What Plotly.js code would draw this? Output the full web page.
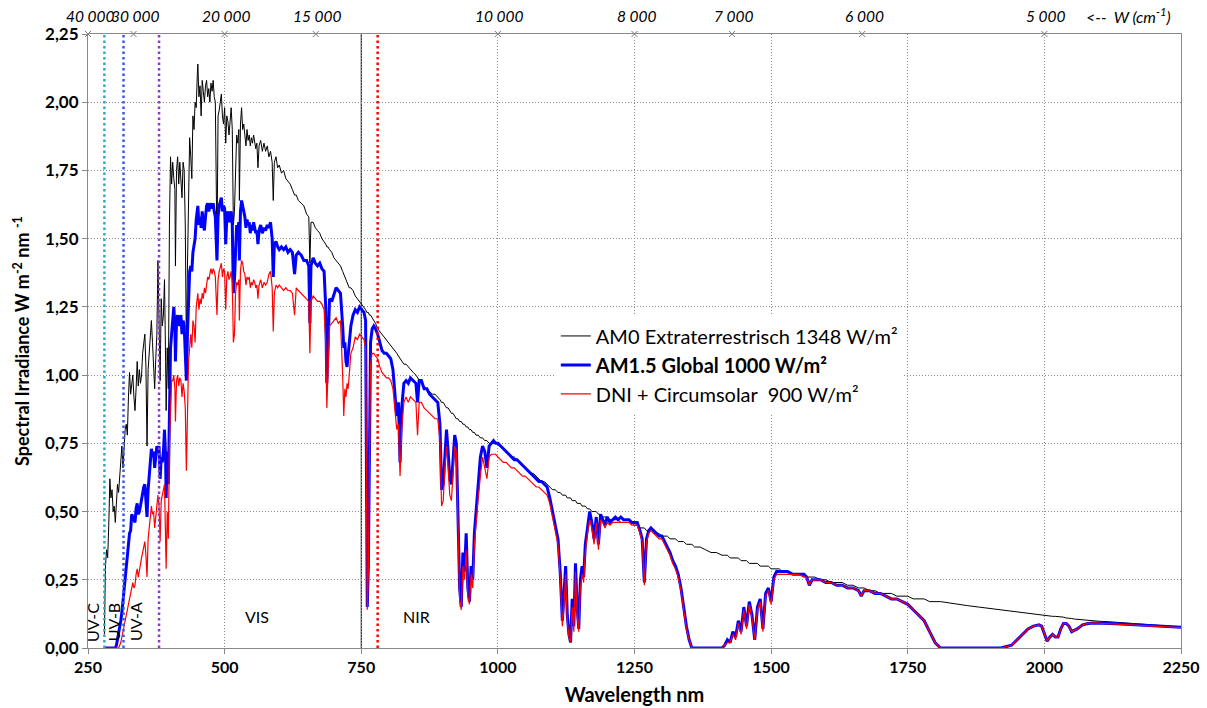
<!DOCTYPE html>
<html>
<head>
<meta charset="utf-8">
<script src="https://cdn.plot.ly/plotly-3.0.1.min.js"></script>
<style>html,body{margin:0;padding:0;background:#fff;}#chart{width:1207px;height:708px;}</style>
</head>
<body>
<div id="chart"></div>
<script>
// ---- data ----
const wavelength = [
 280,282,284,286,288,290,292,294,296,298,
 300,302,304,306,308,310,312,314,316,318,
 320,322,324,326,328,330,332,334,336,338,
 340,342,344,346,348,350,352,354,356,358,
 360,362,364,366,368,370,372,374,376,378,
 380,382,384,386,388,390,392,393,395,397,
 399,401,403,405,407,409,410,412,414,416,
 418,420,422,424,426,428,430,432,434,436,
 438,440,442,444,446,448,450,451,453,455,
 457,459,461,463,465,467,469,471,473,475,
 477,479,481,483,486,488,490,492,494,496,
 498,500,502,504,506,508,510,512,514,516,
 518,520,522,524,526,527,529,531,533,535,
 537,539,541,543,545,547,549,551,553,555,
 557,559,561,563,566,569,572,575,578,581,
 584,587,589,591,594,597,600,604,608,612,
 616,620,624,628,631,635,640,645,650,654,
 656,658,662,666,670,674,678,682,685,687,
 689,692,696,700,704,708,712,716,718,720,
 722,724,726,728,731,735,739,743,747,751,
 755,758,760,761,763,765,767,770,773,776,
 780,784,788,792,796,800,804,808,812,815,
 818,821,824,828,832,836,840,845,850,853,
 856,860,865,870,875,880,885,890,894,897,
 900,903,906,909,912,915,918,921,924,927,
 930,933,936,939,942,945,948,951,954,957,
 960,964,968,972,976,980,984,988,992,996,
 1000,1005,1010,1015,1020,1025,1030,1035,1040,1045,
 1050,1055,1060,1065,1070,1075,1080,1085,1090,1095,
 1100,1105,1110,1114,1118,1121,1124,1127,1130,1133,
 1136,1139,1142,1145,1148,1151,1154,1157,1160,1164,
 1168,1172,1176,1180,1184,1188,1192,1196,1200,1205,
 1210,1215,1220,1225,1230,1235,1240,1245,1250,1255,
 1260,1264,1268,1272,1276,1280,1285,1290,1295,1300,
 1305,1310,1315,1320,1325,1330,1335,1340,1345,1350,
 1355,1360,1370,1380,1390,1400,1410,1415,1420,1425,
 1430,1435,1440,1445,1450,1455,1460,1465,1470,1475,
 1480,1485,1490,1495,1500,1505,1510,1515,1520,1530,
 1540,1550,1560,1565,1570,1575,1580,1590,1600,1610,
 1620,1630,1640,1650,1660,1665,1670,1680,1690,1700,
 1710,1720,1730,1740,1750,1760,1770,1780,1790,1800,
 1810,1820,1840,1860,1880,1900,1920,1940,1950,1960,
 1970,1980,1990,1995,2000,2005,2010,2015,2020,2025,
 2030,2035,2040,2045,2050,2055,2060,2070,2080,2090,
 2100,2120,2140,2160,2180,2200,2220,2250
];

const am0 = [
 0.05,0.30,0.36,0.33,0.45,0.62,0.55,0.58,0.50,0.52,
 0.46,0.55,0.60,0.57,0.62,0.68,0.74,0.66,0.76,0.80,
 0.82,0.78,0.92,1.01,0.93,0.98,1.00,0.92,0.87,0.95,
 1.05,0.96,1.02,0.97,1.00,1.08,1.12,1.15,1.03,0.74,
 1.02,1.08,1.15,1.20,1.12,1.05,0.95,1.06,1.15,1.42,
 1.10,0.98,1.28,1.18,1.22,1.35,1.05,0.87,1.10,0.95,
 1.55,1.80,1.70,1.78,1.72,1.68,1.40,1.75,1.80,1.70,
 1.78,1.72,1.65,1.78,1.75,1.55,1.10,1.40,1.75,1.87,
 1.80,1.72,1.95,1.90,2.00,1.98,2.10,2.14,2.02,2.06,
 1.95,2.08,2.04,2.00,2.06,2.08,2.02,2.05,2.00,2.07,
 2.04,2.08,2.02,2.00,1.46,1.95,1.97,2.00,2.03,1.95,
 1.92,1.98,1.85,1.95,1.93,1.88,1.92,1.98,1.90,1.55,
 1.60,1.80,1.88,1.85,1.90,1.64,1.92,1.98,1.90,1.92,
 1.88,1.84,1.90,1.86,1.88,1.84,1.87,1.85,1.88,1.86,
 1.83,1.85,1.76,1.84,1.86,1.82,1.85,1.82,1.84,1.80,
 1.82,1.78,1.64,1.78,1.80,1.76,1.77,1.74,1.75,1.72,
 1.71,1.70,1.68,1.66,1.66,1.64,1.63,1.62,1.59,1.58,
 1.41,1.56,1.56,1.54,1.53,1.52,1.50,1.49,1.48,1.47,
 1.47,1.46,1.45,1.43,1.42,1.41,1.40,1.38,1.37,1.36,
 1.35,1.34,1.33,1.32,1.32,1.31,1.29,1.28,1.27,1.26,
 1.25,1.24,1.23,1.23,1.23,1.22,1.22,1.21,1.20,1.19,
 1.17,1.16,1.15,1.14,1.13,1.12,1.11,1.10,1.09,1.08,
 1.07,1.06,1.05,1.04,1.04,1.03,1.02,1.01,1.00,0.99,
 0.98,0.97,0.96,0.95,0.94,0.93,0.93,0.92,0.91,0.90,
 0.90,0.89,0.88,0.88,0.87,0.86,0.86,0.85,0.84,0.84,
 0.83,0.83,0.82,0.82,0.81,0.81,0.80,0.80,0.79,0.79,
 0.78,0.78,0.77,0.77,0.76,0.76,0.75,0.75,0.75,0.75,
 0.75,0.74,0.73,0.72,0.71,0.70,0.70,0.69,0.68,0.67,
 0.66,0.65,0.64,0.64,0.63,0.62,0.61,0.61,0.60,0.59,
 0.58,0.58,0.57,0.57,0.56,0.56,0.56,0.55,0.55,0.55,
 0.54,0.54,0.54,0.53,0.53,0.53,0.52,0.52,0.52,0.51,
 0.51,0.50,0.50,0.50,0.49,0.49,0.48,0.48,0.48,0.47,
 0.47,0.47,0.47,0.46,0.46,0.46,0.46,0.46,0.45,0.45,
 0.44,0.44,0.44,0.43,0.43,0.43,0.42,0.42,0.42,0.41,
 0.41,0.41,0.40,0.40,0.40,0.39,0.39,0.39,0.38,0.38,
 0.38,0.37,0.37,0.36,0.35,0.35,0.34,0.34,0.34,0.33,
 0.33,0.33,0.33,0.32,0.32,0.32,0.31,0.31,0.31,0.31,
 0.30,0.30,0.30,0.30,0.29,0.29,0.29,0.29,0.28,0.28,
 0.27,0.27,0.27,0.26,0.26,0.26,0.26,0.25,0.25,0.24,
 0.24,0.24,0.23,0.23,0.22,0.22,0.22,0.21,0.21,0.20,
 0.20,0.20,0.19,0.19,0.19,0.18,0.18,0.18,0.17,0.17,
 0.17,0.167,0.16,0.155,0.15,0.145,0.14,0.135,0.13,0.128,
 0.125,0.123,0.12,0.12,0.118,0.118,0.117,0.116,0.116,0.115,
 0.115,0.113,0.11,0.11,0.108,0.106,0.105,0.103,0.101,0.10,
 0.098,0.096,0.093,0.09,0.087,0.084,0.081,0.077
];

const global15 = [
 0,0,0,0,0,0,0,0,0,0,
 0.00,0.01,0.03,0.05,0.07,0.10,0.13,0.17,0.20,0.25,
 0.30,0.33,0.38,0.42,0.43,0.49,0.48,0.47,0.46,0.51,
 0.53,0.49,0.50,0.52,0.55,0.58,0.59,0.60,0.55,0.48,
 0.58,0.63,0.68,0.73,0.70,0.72,0.66,0.70,0.74,0.72,
 0.74,0.62,0.70,0.68,0.72,0.80,0.70,0.55,0.72,0.60,
 0.95,1.10,1.15,1.22,1.25,1.18,1.05,1.20,1.22,1.18,
 1.20,1.22,1.15,1.20,1.18,1.10,0.98,1.15,1.30,1.38,
 1.40,1.38,1.45,1.48,1.50,1.57,1.60,1.62,1.55,1.58,
 1.54,1.60,1.55,1.53,1.58,1.62,1.63,1.60,1.62,1.63,
 1.61,1.63,1.60,1.58,1.42,1.58,1.62,1.64,1.65,1.60,
 1.62,1.61,1.48,1.58,1.60,1.56,1.58,1.60,1.55,1.30,
 1.35,1.50,1.55,1.53,1.56,1.42,1.60,1.64,1.62,1.60,
 1.58,1.54,1.57,1.55,1.56,1.52,1.55,1.53,1.56,1.54,
 1.52,1.53,1.48,1.53,1.55,1.52,1.54,1.53,1.55,1.54,
 1.56,1.50,1.36,1.48,1.49,1.47,1.46,1.47,1.46,1.47,
 1.45,1.46,1.45,1.37,1.44,1.45,1.44,1.42,1.42,1.40,
 1.19,1.40,1.43,1.41,1.40,1.41,1.39,1.38,1.25,0.97,
 1.10,1.28,1.27,1.30,1.32,1.31,1.30,1.18,1.10,1.12,
 1.05,1.03,1.08,1.12,1.18,1.22,1.24,1.23,1.25,1.24,
 1.23,1.20,0.40,0.15,0.30,0.90,1.12,1.17,1.18,1.17,
 1.15,1.12,1.09,1.08,1.08,1.07,1.06,1.02,0.92,0.85,
 0.90,0.68,0.88,0.97,0.98,0.97,0.99,0.98,0.97,0.90,
 0.98,0.98,0.95,0.95,0.93,0.92,0.91,0.90,0.82,0.58,
 0.60,0.72,0.80,0.72,0.62,0.60,0.70,0.78,0.75,0.50,
 0.22,0.15,0.35,0.28,0.42,0.22,0.17,0.30,0.25,0.42,
 0.50,0.60,0.70,0.74,0.72,0.66,0.74,0.75,0.76,0.75,
 0.75,0.74,0.73,0.72,0.71,0.70,0.69,0.69,0.68,0.67,
 0.66,0.65,0.64,0.63,0.62,0.61,0.61,0.60,0.59,0.55,
 0.50,0.45,0.40,0.28,0.10,0.20,0.30,0.12,0.05,0.02,
 0.18,0.08,0.31,0.15,0.07,0.25,0.30,0.26,0.38,0.44,
 0.50,0.46,0.40,0.48,0.38,0.49,0.47,0.45,0.48,0.46,
 0.47,0.48,0.47,0.48,0.47,0.47,0.47,0.46,0.46,0.46,
 0.43,0.40,0.24,0.40,0.43,0.44,0.43,0.42,0.41,0.41,
 0.39,0.37,0.35,0.32,0.30,0.27,0.22,0.15,0.08,0.03,
 0,0,0,0,0,0,0,0.01,0.03,0.02,
 0.06,0.04,0.10,0.06,0.15,0.08,0.17,0.12,0.03,0.15,
 0.18,0.07,0.20,0.22,0.17,0.26,0.28,0.28,0.28,0.28,
 0.27,0.27,0.27,0.26,0.23,0.25,0.25,0.25,0.24,0.24,
 0.23,0.23,0.22,0.22,0.21,0.19,0.21,0.21,0.20,0.20,
 0.19,0.18,0.18,0.17,0.16,0.14,0.12,0.10,0.06,0.02,
 0,0,0,0,0,0,0,0.01,0.03,0.05,
 0.07,0.08,0.085,0.08,0.05,0.025,0.04,0.05,0.04,0.04,
 0.07,0.09,0.09,0.08,0.06,0.065,0.07,0.085,0.09,0.092,
 0.092,0.09,0.088,0.086,0.083,0.081,0.079,0.076
];

const dniCircumsolar = [
 0,0,0,0,0,0,0,0,0,0,
 0,0,0,0.00,0.01,0.02,0.04,0.06,0.08,0.11,
 0.12,0.14,0.16,0.19,0.20,0.23,0.24,0.22,0.23,0.27,
 0.29,0.26,0.29,0.31,0.33,0.35,0.37,0.39,0.34,0.26,
 0.40,0.45,0.49,0.52,0.49,0.50,0.44,0.48,0.53,0.56,
 0.52,0.39,0.54,0.57,0.58,0.60,0.45,0.29,0.50,0.40,
 0.75,0.90,0.98,0.98,1.00,0.95,0.83,0.98,1.00,0.96,
 0.99,0.98,0.92,0.97,0.94,0.88,0.65,0.85,1.05,1.10,
 1.15,1.10,1.20,1.18,1.12,1.25,1.28,1.30,1.24,1.28,
 1.26,1.30,1.28,1.32,1.30,1.34,1.36,1.35,1.37,1.39,
 1.37,1.39,1.38,1.36,1.22,1.35,1.38,1.40,1.41,1.36,
 1.39,1.38,1.24,1.36,1.38,1.35,1.36,1.38,1.34,1.12,
 1.15,1.30,1.34,1.33,1.35,1.20,1.38,1.42,1.41,1.38,
 1.37,1.33,1.36,1.35,1.36,1.32,1.34,1.33,1.35,1.34,
 1.32,1.33,1.28,1.33,1.35,1.32,1.34,1.33,1.34,1.37,
 1.38,1.32,1.16,1.30,1.33,1.32,1.33,1.32,1.31,1.32,
 1.31,1.31,1.30,1.22,1.32,1.31,1.30,1.29,1.28,1.27,
 1.08,1.27,1.29,1.28,1.27,1.27,1.26,1.24,1.12,0.88,
 1.00,1.18,1.19,1.20,1.21,1.19,1.20,1.00,0.85,0.95,
 0.92,0.97,0.95,1.00,1.08,1.10,1.14,1.13,1.15,1.14,
 1.13,1.10,0.35,0.14,0.28,0.82,1.04,1.08,1.08,1.07,
 1.06,1.03,1.01,1.00,0.99,0.99,0.98,0.95,0.85,0.80,
 0.82,0.63,0.80,0.90,0.92,0.90,0.92,0.91,0.90,0.78,
 0.90,0.90,0.88,0.87,0.86,0.85,0.84,0.84,0.76,0.52,
 0.54,0.66,0.74,0.66,0.56,0.54,0.64,0.74,0.72,0.45,
 0.18,0.14,0.30,0.25,0.36,0.19,0.16,0.27,0.22,0.38,
 0.46,0.55,0.63,0.70,0.66,0.62,0.70,0.71,0.71,0.71,
 0.70,0.69,0.68,0.68,0.67,0.66,0.66,0.65,0.64,0.63,
 0.63,0.62,0.61,0.60,0.59,0.59,0.58,0.57,0.56,0.53,
 0.48,0.43,0.38,0.26,0.08,0.16,0.27,0.10,0.04,0.02,
 0.15,0.06,0.28,0.12,0.06,0.22,0.27,0.24,0.35,0.42,
 0.47,0.44,0.38,0.46,0.36,0.47,0.46,0.44,0.46,0.45,
 0.46,0.46,0.46,0.46,0.46,0.46,0.46,0.45,0.45,0.45,
 0.42,0.39,0.23,0.39,0.42,0.43,0.42,0.41,0.40,0.40,
 0.38,0.36,0.34,0.31,0.29,0.26,0.21,0.14,0.07,0.03,
 0,0,0,0,0,0,0,0.01,0.02,0.02,
 0.05,0.03,0.09,0.05,0.14,0.07,0.16,0.11,0.03,0.14,
 0.17,0.06,0.19,0.21,0.16,0.25,0.27,0.27,0.27,0.27,
 0.27,0.27,0.26,0.26,0.23,0.25,0.25,0.25,0.24,0.24,
 0.23,0.23,0.22,0.22,0.21,0.19,0.21,0.21,0.20,0.20,
 0.19,0.18,0.18,0.17,0.16,0.14,0.12,0.10,0.06,0.02,
 0,0,0,0,0,0,0,0.01,0.03,0.05,
 0.07,0.08,0.085,0.08,0.05,0.025,0.04,0.05,0.04,0.04,
 0.07,0.09,0.09,0.08,0.06,0.065,0.07,0.085,0.09,0.092,
 0.091,0.089,0.087,0.085,0.082,0.080,0.078,0.075
];

const seriesNames = [
  'AM0 Extraterrestrisch 1348 W/m²',
  '<b>AM1.5 Global 1000 W/m²</b>',
  'DNI + Circumsolar  900 W/m²'
];

// top scale: wavenumber (cm^-1)
const wavenumbers = [40000, 30000, 20000, 15000, 10000, 8000, 7000, 6000, 5000];
const wavenumberLabels = ['40 000','30 000','20 000','15 000','10 000','8 000','7 000','6 000','5 000'];

// band borders (nm) and band labels
const bandBorders = [280, 315, 380, 780];
const bandLabels = ['UV-C', 'UV-B', 'UV-A'];
const bandLabelPos = [257, 296, 336];
const regionLabels = ['VIS', 'NIR'];
const regionLabelPos = [559, 852];

const xRange = [250, 2250];
const yRange = [0, 2.25];

// ---- chart ----
const FONT = 'Lato, "Open Sans", sans-serif';
const n = Math.min(wavelength.length, am0.length, global15.length, dniCircumsolar.length);
const wl = wavelength.slice(0, n);
const wnPos = wavenumbers.map(w => 1e7 / w);

const traces = [
  {x: wl, y: am0.slice(0, n), name: seriesNames[0], type: 'scatter', mode: 'lines',
   line: {color: '#000000', width: 1}},
  {x: wl, y: global15.slice(0, n), name: seriesNames[1], type: 'scatter', mode: 'lines',
   line: {color: '#0000FF', width: 3}},
  {x: wl, y: dniCircumsolar.slice(0, n), name: seriesNames[2], type: 'scatter', mode: 'lines',
   line: {color: '#FF0000', width: 1.2}},
  {x: wnPos, y: wavenumbers.map(() => yRange[1]),
   type: 'scatter', mode: 'markers', showlegend: false, hoverinfo: 'skip', cliponaxis: false,
   marker: {symbol: 'x-thin', size: 6, line: {color: '#777', width: 1}, color: '#777'}}
];

const borderColors = ['#25AECB', '#3A5BE0', '#8A3FC0', '#FF0000'];
const shapes = bandBorders.map((b, i) => ({
  type: 'line', xref: 'x', yref: 'y', x0: b, x1: b, y0: yRange[0], y1: yRange[1],
  line: {color: borderColors[i], width: 2.5, dash: '2.5px,3px'}
}));
shapes.push({type: 'line', xref: 'x', yref: 'y', x0: 750, x1: 750, y0: yRange[0], y1: yRange[1],
  line: {color: '#000', width: 1}, layer: 'below'});

const annotations = [];
bandLabels.forEach((t, i) => annotations.push({
  text: t, x: bandLabelPos[i], y: 0.095, xref: 'x', yref: 'y', showarrow: false,
  textangle: -90, font: {family: FONT, size: 16, color: '#000'}
}));
regionLabels.forEach((t, i) => annotations.push({
  text: t, x: regionLabelPos[i], y: 0.115, xref: 'x', yref: 'y', showarrow: false,
  font: {family: FONT, size: 16, color: '#000'}
}));
wavenumberLabels.forEach((t, i) => annotations.push({
  text: t, x: wnPos[i], y: 1, xref: 'x', yref: 'paper', yanchor: 'bottom', xanchor: 'center',
  xshift: 2, yshift: 7, showarrow: false,
  font: {family: FONT, size: 15.5, color: '#000', style: 'italic'}
}));
annotations.push({
  text: '<--  W (cm<sup>-1</sup>)', x: 1.0, y: 1.0, xref: 'paper', yref: 'paper',
  xanchor: 'right', yanchor: 'bottom', yshift: 6, xshift: -8, showarrow: false,
  font: {family: FONT, size: 16, color: '#000', style: 'italic'}
});

const layout = {
  width: 1207, height: 708,
  margin: {l: 88, r: 26, t: 34, b: 60},
  paper_bgcolor: '#fff', plot_bgcolor: '#fff',
  separators: ', ',
  font: {family: FONT, color: '#000'},
  showlegend: true,
  legend: {x: 0.428, y: 0.54, xanchor: 'left', yanchor: 'top', bgcolor: '#fff',
    font: {family: FONT, size: 20, color: '#000'}, traceorder: 'normal', itemwidth: 30,
    tracegroupgap: 0},
  xaxis: {
    range: xRange, tick0: 250, dtick: 250, tickformat: 'd',
    showgrid: true, gridcolor: '#8c8c8c', griddash: '1px,2px', gridwidth: 1,
    showline: true, linecolor: '#888', linewidth: 1, mirror: true,
    ticks: 'outside', ticklen: 5, tickcolor: '#888', zeroline: false,
    tickfont: {family: FONT, size: 16, color: '#000', weight: 'bold'},
    title: {text: 'Wavelength nm', font: {family: FONT, size: 20, color: '#000', weight: 'bold'}, standoff: 12}
  },
  yaxis: {
    range: yRange, dtick: 0.25, tickformat: '.2f',
    showgrid: true, gridcolor: '#8c8c8c', griddash: '1px,2px', gridwidth: 1,
    showline: true, linecolor: '#888', linewidth: 1, mirror: true,
    ticks: 'outside', ticklen: 5, tickcolor: '#888', zeroline: false,
    tickfont: {family: FONT, size: 17, color: '#000', weight: 'bold'},
    title: {text: 'Spectral Irradiance W m<sup>-2</sup> nm <sup>-1</sup>',
      font: {family: FONT, size: 18, color: '#000', weight: 'bold'}, standoff: 10}
  },
  shapes: shapes,
  annotations: annotations
};

Plotly.newPlot('chart', traces, layout, {displayModeBar: false, staticPlot: true});
</script>
</body>
</html>
